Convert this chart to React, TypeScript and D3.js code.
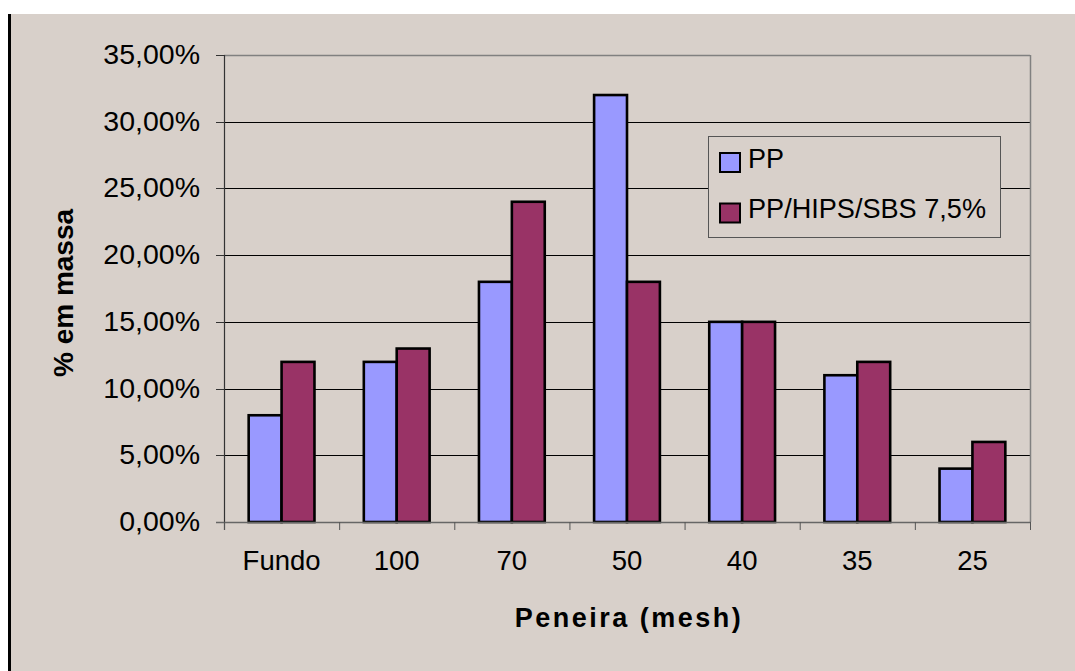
import React from "react";
import * as d3 from "d3";

const categories = ["Fundo", "100", "70", "50", "40", "35", "25"];
const seriesNames = ["PP", "PP/HIPS/SBS 7,5%"];
const ppValues = [0.08, 0.12, 0.18, 0.32, 0.15, 0.11, 0.04];
const blendValues = [0.12, 0.13, 0.24, 0.18, 0.15, 0.12, 0.06];
const yTicks = [0, 0.05, 0.1, 0.15, 0.2, 0.25, 0.3, 0.35];
const colors = ["#9999ff", "#993366"];

const W = 1075;
const H = 671;
const left = 224, right = 1030, top = 55, bottom = 522;

export default function App() {
  const x = d3.scaleBand<string>().domain(categories).range([left, right]).paddingInner(0).paddingOuter(0);
  const y = d3.scaleLinear().domain([0, 0.35]).range([bottom, top]);
  const bw = x.bandwidth() / 3.5;
  const fmt = (v: number) => (v * 100).toFixed(2).replace(".", ",") + "%";
  const series = [ppValues, blendValues];
  const font = "'Liberation Sans', Arial, sans-serif";

  return (
    <svg width={W} height={H} style={{ position: "absolute", left: 0, top: 0 }} fontFamily={font}>
      <rect x={0} y={0} width={W} height={H} fill="#ffffff" />
      <rect x={8} y={14} width={W - 8} height={H - 14} fill="#d8d0ca" />
      <line x1={9.5} y1={14} x2={9.5} y2={H} stroke="#000" strokeWidth={3} />
      {/* gridlines */}
      {yTicks.filter((t) => t > 0 && t < 0.35).map((t) => (
        <line key={t} x1={left} x2={right} y1={Math.round(y(t)) + 0.5} y2={Math.round(y(t)) + 0.5} stroke="#000" strokeWidth={1} />
      ))}
      {/* plot border top/right */}
      <line x1={left} x2={right} y1={top + 0.5} y2={top + 0.5} stroke="#808080" strokeWidth={1.5} />
      <line x1={right + 0.5} x2={right + 0.5} y1={top} y2={bottom} stroke="#808080" strokeWidth={1.5} />
      {/* bars */}
      {categories.map((c, i) =>
        series.map((s, k) => (
          <rect
            key={c + k}
            x={(x(c) as number) + bw * 0.75 + k * bw}
            y={y(s[i])}
            width={bw}
            height={bottom - y(s[i])}
            fill={colors[k]}
            stroke="#000"
            strokeWidth={2.6}
          />
        ))
      )}
      {/* y axis */}
      <line x1={left + 0.5} x2={left + 0.5} y1={top} y2={bottom + 8} stroke="#333" strokeWidth={1.2} />
      {yTicks.map((t) => (
        <g key={t}>
          <line x1={left - 8} x2={left} y1={Math.round(y(t)) + 0.5} y2={Math.round(y(t)) + 0.5} stroke="#333" strokeWidth={1} />
          <text x={200} y={y(t) + 9} textAnchor="end" fontSize={28.5} fill="#000">
            {fmt(t)}
          </text>
        </g>
      ))}
      {/* x axis */}
      <line x1={left - 8} x2={right + 1} y1={bottom + 0.5} y2={bottom + 0.5} stroke="#666" strokeWidth={1.5} />
      {categories.map((c) => (
        <text key={c} x={(x(c) as number) + x.bandwidth() / 2} y={570} textAnchor="middle" fontSize={27.5} fill="#000">
          {c}
        </text>
      ))}
      {[...categories.map((c) => x(c) as number), right].map((p, i) => (
        <line key={i} x1={p + 0.5} x2={p + 0.5} y1={bottom} y2={bottom + 8} stroke="#555" strokeWidth={1} />
      ))}
      {/* axis titles */}
      <text x={629} y={627} textAnchor="middle" fontSize={27} fontWeight="bold" letterSpacing={2.5} fill="#000">
        Peneira (mesh)
      </text>
      <text transform={`translate(73,${293}) rotate(-90)`} textAnchor="middle" fontSize={28} fontWeight="bold" fill="#000">
        % em massa
      </text>
      {/* legend */}
      <rect x={708.5} y={136.5} width={292} height={101} fill="#d8d0ca" stroke="#555" strokeWidth={1} />
      {seriesNames.map((n, k) => (
        <g key={n}>
          <rect x={720} y={153 + k * 50.5} width={20} height={19} fill={colors[k]} stroke="#000" strokeWidth={2} />
          <text x={748} y={168 + k * 50} fontSize={27} fill="#000"
            textLength={k === 1 ? 238 : undefined} lengthAdjust="spacingAndGlyphs">
            {n}
          </text>
        </g>
      ))}
    </svg>
  );
}
